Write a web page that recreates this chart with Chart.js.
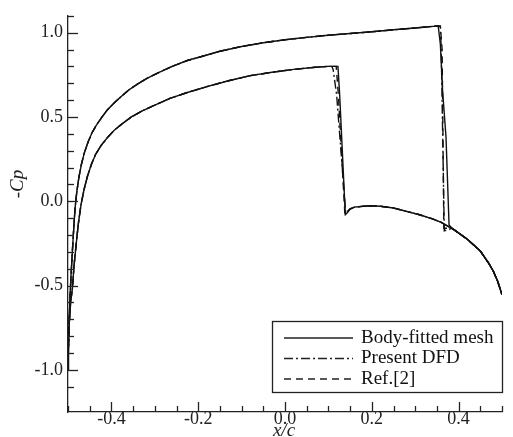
<!DOCTYPE html>
<html>
<head>
<meta charset="utf-8">
<script src="https://cdn.jsdelivr.net/npm/chart.js@4/dist/chart.umd.min.js"></script>
<style>
  html, body { margin: 0; padding: 0; background: #fff; }
  canvas { display: block; }
</style>
</head>
<body>
<canvas id="grafico" width="513" height="437"></canvas>
<script>
// superficie superior (compartida antes del choque)
const xSuperior = [-0.5, -0.499, -0.497, -0.495, -0.493, -0.49, -0.487, -0.484, -0.48, -0.475, -0.469, -0.462, -0.454, -0.445, -0.435, -0.423, -0.41, -0.395, -0.378, -0.36, -0.34, -0.317, -0.29, -0.26, -0.225, -0.19, -0.15, -0.1, -0.05, 0.0, 0.05, 0.1, 0.15, 0.2, 0.25, 0.3];
const cpSuperior = [-1.0, -0.85, -0.68, -0.55, -0.44, -0.3, -0.17, -0.05, 0.05, 0.14, 0.22, 0.29, 0.35, 0.405, 0.45, 0.495, 0.54, 0.58, 0.62, 0.66, 0.695, 0.73, 0.765, 0.80, 0.835, 0.86, 0.89, 0.918, 0.94, 0.958, 0.972, 0.985, 0.995, 1.005, 1.017, 1.028];

// superficie inferior (compartida antes del choque)
const xInferior = [-0.5, -0.499, -0.497, -0.494, -0.49, -0.486, -0.481, -0.476, -0.47, -0.463, -0.455, -0.446, -0.436, -0.424, -0.41, -0.394, -0.375, -0.354, -0.33, -0.3, -0.265, -0.225, -0.18, -0.13, -0.08, -0.03, 0.02, 0.07, 0.1];
const cpInferior = [-1.0, -0.88, -0.72, -0.6, -0.52, -0.38, -0.25, -0.13, -0.02, 0.07, 0.15, 0.22, 0.28, 0.33, 0.375, 0.42, 0.46, 0.5, 0.535, 0.57, 0.61, 0.645, 0.68, 0.715, 0.745, 0.765, 0.782, 0.795, 0.80];

// zona posterior al choque hasta el borde de salida
const xCola = [0.16, 0.18, 0.2, 0.22, 0.25, 0.28, 0.31, 0.34, 0.36, 0.39, 0.42, 0.45, 0.47, 0.48, 0.49, 0.497, 0.5];
const cpCola = [-0.035, -0.03, -0.027, -0.03, -0.04, -0.06, -0.08, -0.105, -0.125, -0.17, -0.225, -0.295, -0.37, -0.415, -0.475, -0.53, -0.555];

// choques de cada método
const xChoqueSupMalla = [0.353, 0.358, 0.363, 0.371, 0.378, 0.385];
const cpChoqueSupMalla = [1.04, 0.93, 0.66, 0.38, -0.14, -0.16];
const xChoqueInfMalla = [0.122, 0.126, 0.139, 0.143, 0.15];
const cpChoqueInfMalla = [0.80, 0.63, -0.08, -0.07, -0.045];

const xChoqueSupDFD = [0.353, 0.358, 0.36, 0.367, 0.375, 0.385];
const cpChoqueSupDFD = [1.04, 1.04, 0.9, -0.175, -0.17, -0.16];
const xChoqueInfDFD = [0.108, 0.111, 0.119, 0.14, 0.148];
const cpChoqueInfDFD = [0.80, 0.78, 0.63, -0.07, -0.05];

const xChoqueSupRef = [0.353, 0.358, 0.362, 0.366, 0.376, 0.385];
const cpChoqueSupRef = [1.04, 1.035, 0.9, -0.16, -0.16, -0.16];
const xChoqueInfRef = [0.118, 0.123, 0.138, 0.143, 0.15];
const cpChoqueInfRef = [0.80, 0.63, -0.08, -0.07, -0.045];

const etiquetas = ['Body-fitted mesh', 'Present DFD', 'Ref.[2]'];
const trazos = [[], [9, 3, 2, 3], [7, 5]];

function puntos(xs, ys) {
    return xs.map((x, i) => ({ x: x, y: ys[i] }));
}

function curva(xs, ys, xChoque, cpChoque) {
    const ultimo = xChoque[xChoque.length - 1];
    const cola = puntos(xCola, cpCola).filter(p => p.x > ultimo);
    return puntos(xs, ys).concat(puntos(xChoque, cpChoque), cola);
}

const choques = [
    [xChoqueSupMalla, cpChoqueSupMalla, xChoqueInfMalla, cpChoqueInfMalla],
    [xChoqueSupDFD, cpChoqueSupDFD, xChoqueInfDFD, cpChoqueInfDFD],
    [xChoqueSupRef, cpChoqueSupRef, xChoqueInfRef, cpChoqueInfRef]
];

const conjuntos = [];
choques.forEach((c, i) => {
    const estilo = {
        label: etiquetas[i],
        showLine: true,
        borderColor: '#111',
        borderWidth: 1.4,
        borderDash: trazos[i],
        pointRadius: 0,
        fill: false,
        tension: 0
    };
    conjuntos.push(Object.assign({}, estilo, { data: curva(xSuperior, cpSuperior, c[0], c[1]) }));
    conjuntos.push(Object.assign({}, estilo, { data: curva(xInferior, cpInferior, c[2], c[3]) }));
});

const fuenteSerif = "'Liberation Serif', 'Times New Roman', serif";

// marcas hacia dentro, títulos de ejes y leyenda con recuadro
const marcasYLeyenda = {
    id: 'marcasYLeyenda',
    afterDraw(chart) {
        const ctx = chart.ctx;
        const sx = chart.scales.x;
        const sy = chart.scales.y;
        ctx.save();
        ctx.strokeStyle = '#222';
        ctx.lineWidth = 1.3;
        ctx.setLineDash([]);
        sx.ticks.forEach(t => {
            const v = Math.round(t.value * 100) / 100;
            const mayor = Math.abs(v * 5 - Math.round(v * 5)) < 1e-6;
            const px = Math.round(sx.getPixelForValue(v)) + 0.5;
            ctx.beginPath();
            ctx.moveTo(px, sy.bottom);
            ctx.lineTo(px, sy.bottom - (mayor ? 10 : 6));
            ctx.stroke();
        });
        sy.ticks.forEach(t => {
            const v = Math.round(t.value * 100) / 100;
            if (v < -1.15) return;
            const mayor = Math.abs(v * 2 - Math.round(v * 2)) < 1e-6;
            const py = Math.round(sy.getPixelForValue(v)) + 0.5;
            ctx.beginPath();
            ctx.moveTo(sx.left, py);
            ctx.lineTo(sx.left + (mayor ? 10 : 6), py);
            ctx.stroke();
        });

        // títulos
        ctx.fillStyle = '#222';
        ctx.font = 'italic 19px ' + fuenteSerif;
        ctx.textAlign = 'center';
        ctx.textBaseline = 'alphabetic';
        ctx.fillText('x/c', 284, 436);
        ctx.save();
        ctx.translate(18, 184);
        ctx.rotate(-Math.PI / 2);
        ctx.textBaseline = 'middle';
        ctx.fillText('-Cp', 0, 0);
        ctx.restore();

        // leyenda
        const caja = { x: 272, y: 321, w: 230, h: 71 };
        ctx.fillStyle = '#fff';
        ctx.fillRect(caja.x, caja.y, caja.w, caja.h);
        ctx.strokeRect(caja.x + 0.5, caja.y + 0.5, caja.w, caja.h);
        ctx.font = '19px ' + fuenteSerif;
        ctx.textAlign = 'left';
        ctx.textBaseline = 'middle';
        ctx.fillStyle = '#111';
        etiquetas.forEach((texto, i) => {
            const yy = caja.y + 17 + i * 20.5;
            ctx.beginPath();
            ctx.setLineDash(trazos[i]);
            ctx.lineWidth = 1.4;
            ctx.moveTo(284, yy);
            ctx.lineTo(353, yy);
            ctx.stroke();
            ctx.setLineDash([]);
            ctx.fillText(texto, 361, yy);
        });
        ctx.restore();
    }
};

new Chart(document.getElementById('grafico'), {
    type: 'scatter',
    data: { datasets: conjuntos },
    options: {
        responsive: false,
        animation: false,
        layout: { padding: { left: 0, right: 11, top: 8, bottom: 0 } },
        plugins: { legend: { display: false }, tooltip: { enabled: false } },
        scales: {
            x: {
                type: 'linear',
                min: -0.5,
                max: 0.5,
                grid: { display: false, drawTicks: false },
                border: { display: true, color: '#222', width: 1.3 },
                ticks: {
                    stepSize: 0.05,
                    autoSkip: false,
                    maxRotation: 0,
                    padding: -4,
                    color: '#222',
                    font: { family: fuenteSerif, size: 18 },
                    callback: v => {
                        const r = Math.round(v * 100) / 100;
                        return Math.abs(r * 5 - Math.round(r * 5)) < 1e-6 && Math.abs(r) < 0.45 ? r.toFixed(1) : '';
                    }
                },
                afterFit: s => { s.height = 25; }
            },
            y: {
                type: 'linear',
                min: -1.25,
                max: 1.1,
                grid: { display: false, drawTicks: false },
                border: { display: true, color: '#222', width: 1.3 },
                ticks: {
                    stepSize: 0.1,
                    autoSkip: false,
                    padding: 5,
                    color: '#222',
                    font: { family: fuenteSerif, size: 18 },
                    callback: v => {
                        const r = Math.round(v * 100) / 100;
                        return Math.abs(r * 2 - Math.round(r * 2)) < 1e-6 && r > -1.1 ? r.toFixed(1) : '';
                    }
                },
                afterFit: s => { s.width = 68; }
            }
        }
    },
    plugins: [marcasYLeyenda]
});
</script>
</body>
</html>
